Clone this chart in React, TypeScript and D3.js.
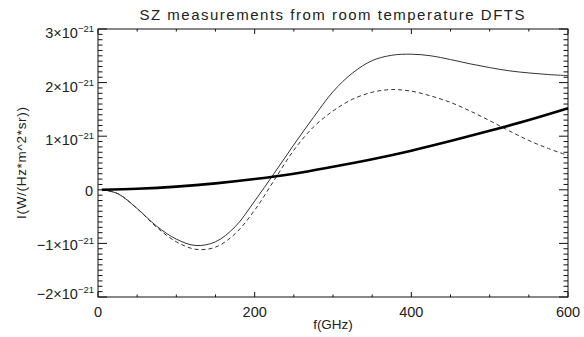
import React from "react";
import * as d3 from "d3";

const freqs = [5, 25, 50, 75, 100, 125, 150, 175, 200, 225, 250, 275, 300, 325, 350, 375, 400, 425, 450, 475, 500, 525, 550, 575, 600];
const solidSeries = [0, -0.07, -0.35, -0.68, -0.92, -1.04, -0.97, -0.69, -0.21, 0.31, 0.84, 1.35, 1.83, 2.18, 2.41, 2.51, 2.53, 2.50, 2.43, 2.35, 2.28, 2.22, 2.18, 2.15, 2.13];
const dashedSeries = [0, -0.07, -0.35, -0.70, -0.97, -1.11, -1.07, -0.82, -0.38, 0.18, 0.74, 1.17, 1.47, 1.69, 1.82, 1.87, 1.84, 1.75, 1.63, 1.47, 1.29, 1.10, 0.92, 0.77, 0.64];
const thickFreqs = [5, 50, 100, 150, 200, 250, 300, 350, 400, 450, 500, 550, 600];
const thickSeries = [0, 0.02, 0.06, 0.12, 0.20, 0.30, 0.43, 0.57, 0.73, 0.91, 1.10, 1.30, 1.52];

const xTickValues = [0, 200, 400, 600];
const yTickValues = [-2, -1, 0, 1, 2, 3];
const titleText = "SZ measurements from room temperature DFTS";
const xTitle = "f(GHz)";
const yTitle = "I(W/(Hz*m^2*sr))";

const W = 584, H = 337;
const L = 98, R = 568, T = 29, B = 297;
const FONT = "'Liberation Sans', Arial, sans-serif";

export default function App() {
  const x = d3.scaleLinear().domain([0, 600]).range([L, R]);
  const y = d3.scaleLinear().domain([-2, 3]).range([B, T]);

  const line = d3.line<[number, number]>()
    .x((d) => x(d[0]))
    .y((d) => y(d[1]))
    .curve(d3.curveCatmullRom.alpha(0.5));

  const solidPath = line(freqs.map((f, i) => [f, solidSeries[i]]) as [number, number][]) || "";
  const dashedPath = line(freqs.map((f, i) => [f, dashedSeries[i]]) as [number, number][]) || "";
  const thickPath = line(thickFreqs.map((f, i) => [f, thickSeries[i]]) as [number, number][]) || "";

  const xMinor = d3.range(0, 601, 50).filter((v) => v % 200 !== 0);
  const yMinor = d3.range(-20, 31, 1).map((v) => v / 10).filter((v) => Math.abs(v - Math.round(v)) > 1e-6);

  const fmtMajor = (v: number) => (v < 0 ? "\u2212" + Math.abs(v) : String(v));
  const labelOffset = (v: number) => (v >= 1 ? 9 : v >= -1 ? 6.5 : 2);

  return (
    <svg width={W} height={H} style={{ position: "absolute", left: 0, top: 0, background: "#fff" }}>
      <rect x={0} y={0} width={W} height={H} fill="#fff" />
      {/* title */}
      <text x={(L + R) / 2 - 1} y={20} textAnchor="middle" fontFamily={FONT} fontSize={15} fill="#222"
        textLength={385} lengthAdjust="spacing">{titleText}</text>

      {/* frame */}
      <rect x={L} y={T} width={R - L} height={B - T} fill="none" stroke="#111" strokeWidth={1} />

      {/* x ticks */}
      {xTickValues.map((v) => (
        <g key={"xt" + v}>
          <line x1={x(v)} x2={x(v)} y1={B} y2={B - 5} stroke="#111" />
          <line x1={x(v)} x2={x(v)} y1={T} y2={T + 5} stroke="#111" />
          <text x={x(v)} y={316.5} textAnchor="middle" fontFamily={FONT} fontSize={14.5} fill="#222">{v}</text>
        </g>
      ))}
      {xMinor.map((v) => (
        <g key={"xm" + v}>
          <line x1={x(v)} x2={x(v)} y1={B} y2={B - 2.5} stroke="#111" />
          <line x1={x(v)} x2={x(v)} y1={T} y2={T + 2.5} stroke="#111" />
        </g>
      ))}

      {/* y ticks */}
      {yTickValues.map((v) => (
        <g key={"yt" + v}>
          <line x1={L} x2={L + 9} y1={y(v)} y2={y(v)} stroke="#111" />
          <line x1={R} x2={R - 9} y1={y(v)} y2={y(v)} stroke="#111" />
          {v === 0 ? (
            <text x={93} y={y(v) + labelOffset(v)} textAnchor="end" fontFamily={FONT} fontSize={14.5} fill="#222">0</text>
          ) : (
            <text x={94} y={y(v) + labelOffset(v)} textAnchor="end" fontFamily={FONT} fontSize={14.5} fill="#222">
              {fmtMajor(v) + "\u00d710"}
              <tspan dy={-6} fontSize={9.5}>{"\u221221"}</tspan>
            </text>
          )}
        </g>
      ))}
      {yMinor.map((v) => (
        <g key={"ym" + v}>
          <line x1={L} x2={L + 4.5} y1={y(v)} y2={y(v)} stroke="#111" />
          <line x1={R} x2={R - 4.5} y1={y(v)} y2={y(v)} stroke="#111" />
        </g>
      ))}

      {/* axis titles */}
      <text x={(L + R) / 2} y={329} textAnchor="middle" fontFamily={FONT} fontSize={13.5} fill="#222">{xTitle}</text>
      <text transform={`translate(26,${(T + B) / 2}) rotate(-90)`} textAnchor="middle" fontFamily={FONT} fontSize={13.5}
        fill="#222" textLength={112} lengthAdjust="spacing">{yTitle}</text>

      {/* curves */}
      <path d={solidPath} fill="none" stroke="#333" strokeWidth={1} />
      <path d={dashedPath} fill="none" stroke="#333" strokeWidth={1} strokeDasharray="4,3" />
      <path d={thickPath} fill="none" stroke="#000" strokeWidth={2.6} />
    </svg>
  );
}
